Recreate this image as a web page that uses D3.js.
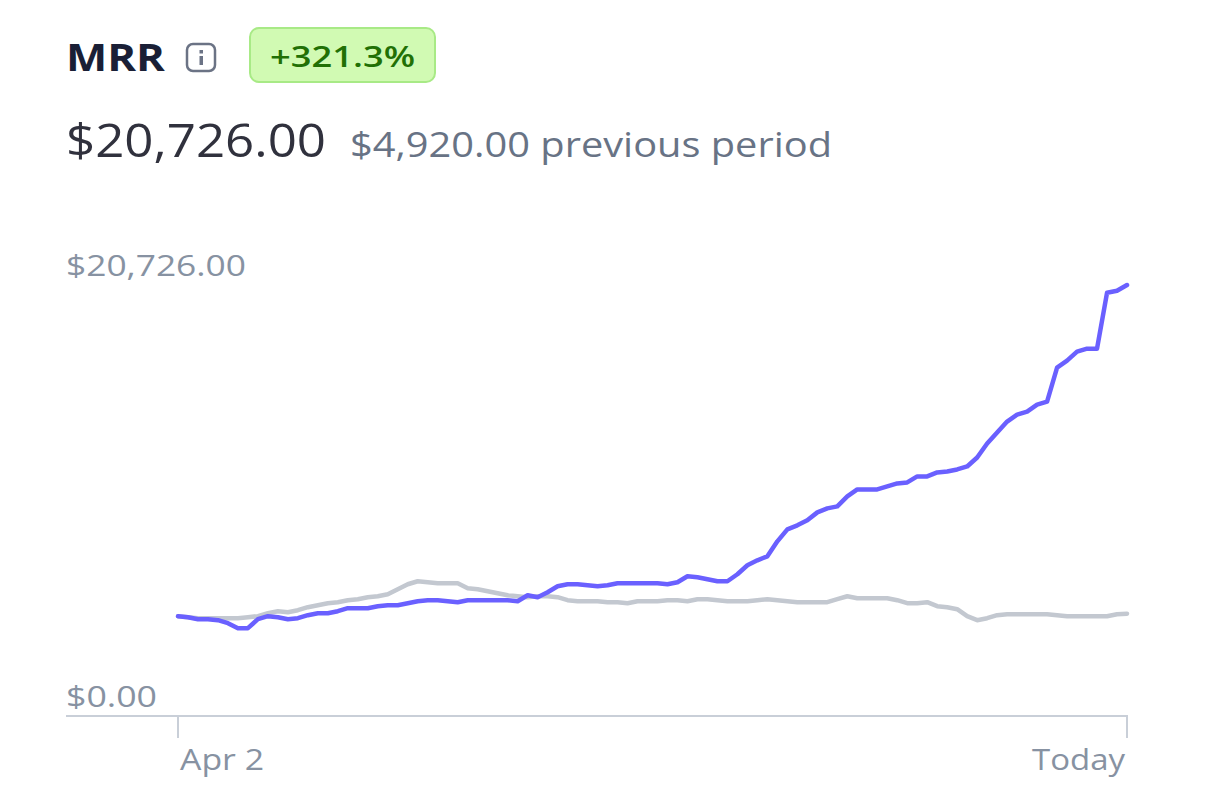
<!DOCTYPE html>
<html><head><meta charset="utf-8">
<script src="https://cdn.jsdelivr.net/npm/d3@7"></script>
<style>body{margin:0;background:#fff;font-family:"Open Sans","Noto Sans",sans-serif}</style>
</head><body><svg id="c" width="1218" height="800"></svg>
<script>
const title = "MRR";
const changeLabel = "+321.3%";
const currentTotal = "$20,726.00";
const previousTotal = "$4,920.00 previous period";
const yTickLabels = ["$0.00", "$20,726.00"];
const xTickLabels = ["Apr 2", "Today"];
const yMax = 20726;
const current = [4800,4752,4656,4656,4608,4464,4224,4224,4656,4800,
4752,4656,4704,4848,4944,4944,5040,5184,5184,5184,
5280,5328,5328,5424,5520,5568,5568,5520,5472,5568,
5568,5568,5568,5568,5520,5808,5712,5952,6240,6336,
6336,6288,6240,6288,6384,6384,6384,6384,6384,6336,
6432,6720,6672,6576,6480,6480,6816,7248,7488,7680,
8400,8976,9168,9408,9792,9984,10080,10560,10896,10896,
10896,11040,11184,11232,11520,11520,11712,11760,11856,12000,
12432,13104,13632,14160,14496,14640,14976,15120,16752,17088,
17520,17664,17664,20352,20448,20726];
const previous = [4800,4752,4704,4704,4704,4704,4704,4752,4800,4944,
5040,4992,5088,5232,5328,5424,5472,5568,5616,5712,
5760,5856,6096,6336,6480,6432,6384,6384,6384,6144,
6096,6000,5904,5808,5760,5712,5760,5760,5712,5568,
5520,5520,5520,5472,5472,5424,5520,5520,5520,5568,
5568,5520,5616,5616,5568,5520,5520,5520,5568,5616,
5568,5520,5472,5472,5472,5472,5616,5760,5664,5664,
5664,5664,5568,5424,5424,5472,5280,5232,5136,4800,
4608,4704,4848,4896,4896,4896,4896,4896,4848,4800,
4800,4800,4800,4800,4896,4920];

const svg = d3.select("#c");
function fit(t, w){ const n=t.node(); const cw=n.getComputedTextLength(); if(cw>0) t.attr("textLength",w).attr("lengthAdjust","spacingAndGlyphs"); return t; }
fit(svg.append("text").attr("x",66).attr("y",71).attr("font-size",37).attr("font-weight",700).attr("fill","#1a1f36").text(title),99);
const ic = svg.append("g").attr("transform","translate(186,43)");
ic.append("rect").attr("x",1).attr("y",1).attr("width",28).attr("height",27).attr("rx",6).attr("fill","none").attr("stroke","#6b7385").attr("stroke-width",2.5);
ic.append("rect").attr("x",13.5).attr("y",13).attr("width",3.5).attr("height",9).attr("fill","#6b7385");
ic.append("rect").attr("x",13.5).attr("y",7).attr("width",3.5).attr("height",3.5).attr("fill","#6b7385");
svg.append("rect").attr("x",250).attr("y",28).attr("width",185).attr("height",54).attr("rx",9).attr("fill","#d1fab3").attr("stroke","#a8ea86").attr("stroke-width",2);
fit(svg.append("text").attr("x",270).attr("y",67).attr("font-size",28).attr("font-weight",600).attr("fill","#217005").text(changeLabel),145);
fit(svg.append("text").attr("x",66).attr("y",157).attr("font-size",46).attr("fill","#30313d").text(currentTotal),260);
fit(svg.append("text").attr("x",350).attr("y",157).attr("font-size",34).attr("fill","#687385").text(previousTotal),482);

const x = d3.scaleLinear().domain([0, current.length-1]).range([178,1127]);
const y = d3.scaleLinear().domain([0,yMax]).range([716,285]);
const lab = "#8792a2";
fit(svg.append("text").attr("x",66).attr("y",707).attr("font-size",29).attr("fill",lab).text(yTickLabels[0]),91);
fit(svg.append("text").attr("x",66).attr("y",276).attr("font-size",29).attr("fill",lab).text(yTickLabels[1]),180);
svg.append("line").attr("x1",66).attr("x2",1128).attr("y1",716).attr("y2",716).attr("stroke","#c9cfd8").attr("stroke-width",2);
[0, current.length-1].forEach(i=>svg.append("line").attr("x1",x(i)).attr("x2",x(i)).attr("y1",716).attr("y2",738).attr("stroke","#c9cfd8").attr("stroke-width",2));
fit(svg.append("text").attr("x",180).attr("y",770).attr("font-size",29).attr("fill",lab).text(xTickLabels[0]),84);
fit(svg.append("text").attr("x",1032).attr("y",770).attr("font-size",29).attr("fill",lab).text(xTickLabels[1]),93);

const line = d3.line().x((d,i)=>x(i)).y(d=>y(d));
svg.append("path").datum(previous).attr("d",line).attr("fill","none").attr("stroke","#c3c8d0").attr("stroke-width",4.5).attr("stroke-linejoin","round").attr("stroke-linecap","round");
svg.append("path").datum(current).attr("d",line).attr("fill","none").attr("stroke","#6a60ff").attr("stroke-width",4.5).attr("stroke-linejoin","round").attr("stroke-linecap","round");
</script></body></html>
